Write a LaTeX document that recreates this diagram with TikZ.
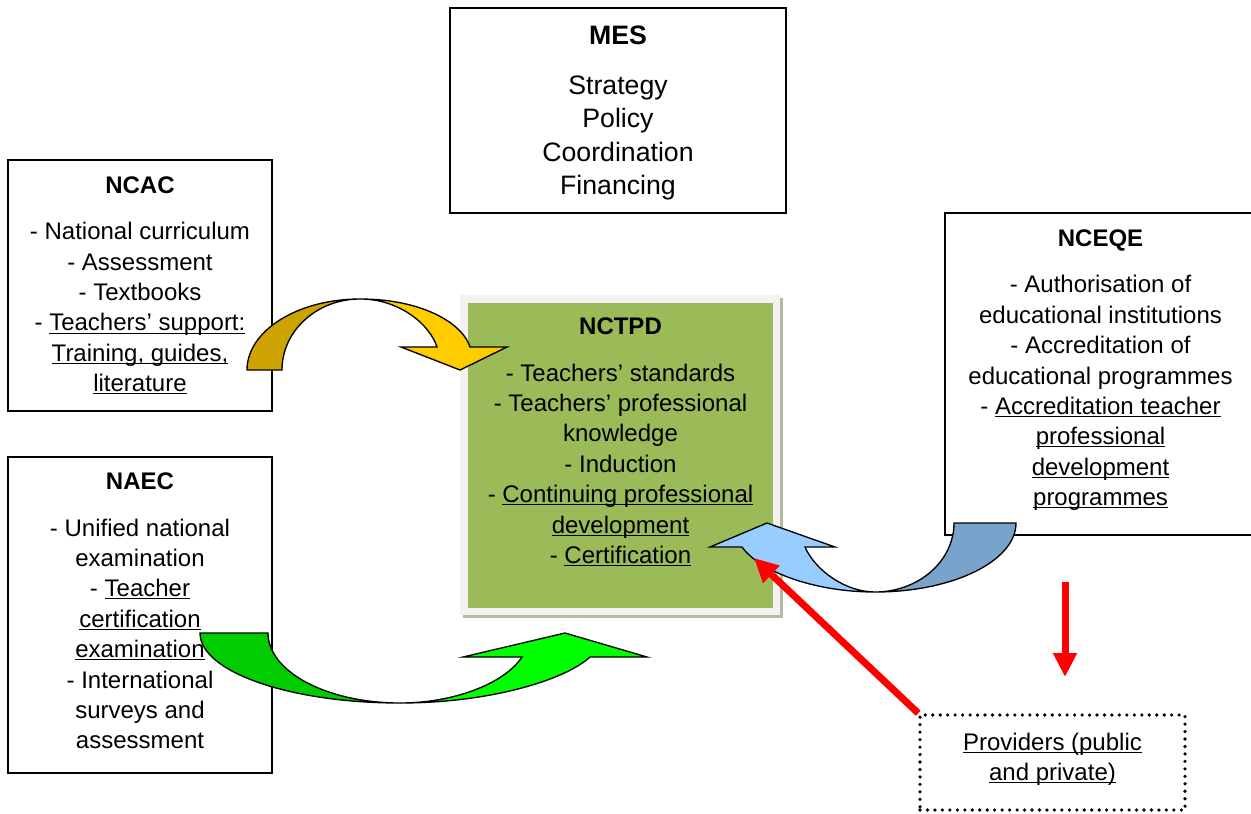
\documentclass[tikz,border=0pt]{standalone}
\usepackage{fontspec}
\setmainfont{Liberation Sans}
\usetikzlibrary{arrows.meta}

\definecolor{nctpdgreen}{RGB}{155,187,89}
\definecolor{framegray}{RGB}{242,242,242}
\definecolor{shadowgray}{RGB}{180,188,160}
\definecolor{golddark}{RGB}{204,163,0}
\definecolor{goldlight}{RGB}{255,204,0}
\definecolor{greendark}{RGB}{0,204,0}
\definecolor{greenlight}{RGB}{0,255,0}
\definecolor{bluedark}{RGB}{122,163,204}
\definecolor{bluelight}{RGB}{153,204,255}

\newcommand{\uln}[1]{\underline{\smash{#1}}}

\tikzset{every picture/.style={line width=0.75pt}}
\tikzset{
  infobox/.style={draw, line width=1pt, fill=white, inner sep=0pt, align=center,
    font=\fontsize{18}{22.8}\selectfont},
  bodytext/.style={inner sep=0pt, align=center, font=\fontsize{18}{22.8}\selectfont},
  bandarrow/.style={draw, line width=1pt, line join=miter},
  redarrow/.style={draw=red, line width=5.25pt, -{Triangle[width=17pt,length=18pt]}}
}

\begin{document}
\begin{tikzpicture}[x=0.75pt,y=0.75pt,yscale=-1,xscale=1]
\useasboundingbox (0,0) rectangle (1251,813);

%Shape: Rectangle [MES]
\node [infobox, minimum width=252pt, minimum height=153.75pt] (mes) at (618,110.5) {};
% Text Node
\node [bodytext, font=\fontsize{20}{25}\selectfont] (mestxt) at (618,113)
  {\textbf{MES}\\[12.5pt]Strategy\\Policy\\Coordination\\Financing};
% Text Node
\node [infobox, minimum width=198pt, minimum height=188.25pt] (ncac) at (140,285.5)
  {\textbf{NCAC}\\[12pt]- National curriculum\\- Assessment\\- Textbooks\\
   - \uln{Teachers’ support:}\\\uln{Training, guides,}\\\uln{literature}};
%Shape: Rectangle [NAEC]
\node [infobox, minimum width=198pt, minimum height=237pt] (naec) at (140,615) {};
% Text Node
\node [bodytext] (naectxt) at (140,611)
  {\textbf{NAEC}\\[12pt]- Unified national\\examination\\- \uln{Teacher}\\\uln{certification}\\
   \uln{examination}\\- International\\surveys and\\assessment};
%Shape: Rectangle [NCEQE]
\node [infobox, minimum width=233.25pt, minimum height=241.5pt] (nceqe) at (1100.5,374) {};
% Text Node
\node [bodytext] (nceqetxt) at (1100.5,369)
  {\textbf{NCEQE}\\[12pt]- Authorisation of\\educational institutions\\- Accreditation of\\
   educational programmes\\- \uln{Accreditation teacher}\\\uln{professional}\\\uln{development}\\
   \uln{programmes}};
%Shape: Rectangle [Providers, dotted]
\node [infobox, dash pattern=on 0pt off 5.6pt, line cap=round, line width=2.7pt, minimum width=198.75pt, minimum height=71.25pt] (prov) at (1052.5,762.5) {};
% Text Node
\node [bodytext] (provtxt) at (1052.5,767)
  {\uln{Providers (public}\\\uln{and private)}};

%Shape: Rectangle (shadow, frame and green box of NCTPD)
\node [fill=shadowgray, inner sep=0pt, minimum width=240pt, minimum height=240pt] (nctpdshadow) at (622.5,458) {};
\node [fill=framegray, inner sep=0pt, minimum width=240pt, minimum height=240pt] (nctpdframe) at (620,455) {};
\node [fill=nctpdgreen, inner sep=0pt, minimum width=228.75pt, minimum height=228.75pt] (nctpd) at (620.5,455.5) {};
% Text Node
\node [bodytext] (nctpdtxt) at (620.5,442)
  {\textbf{NCTPD}\\[12pt]- Teachers’ standards\\- Teachers’ professional\\knowledge\\- Induction\\
   - \uln{Continuing professional}\\\uln{development}\\- \uln{Certification}};

%Shape: Curved Down Arrow (NCAC to NCTPD)
\draw [bandarrow, fill=golddark] (247,370) .. controls (247,330.8) and (297.6,299) .. (360,299)
  .. controls (316.9,299) and (282,330.8) .. (282,370) -- cycle;
\draw [bandarrow, fill=goldlight] (360,299) .. controls (420,299) and (462,322) .. (470,347)
  -- (507,347) -- (460,370) -- (401,347) -- (437,347)
  .. controls (430,325) and (400,299) .. (360,299) -- cycle;

%Shape: Curved Up Arrow (NAEC to NCTPD)
\draw [bandarrow, fill=greendark] (200,633) .. controls (200,671.7) and (289.5,703) .. (400,703)
  .. controls (327,703) and (268,671.7) .. (268,633) -- cycle;
\draw [bandarrow, fill=greenlight] (400,703) .. controls (490,703) and (565,680) .. (590,657)
  -- (647,657) -- (565,633) -- (463,657) -- (522,657)
  .. controls (505,683) and (455,703) .. (400,703) -- cycle;

%Shape: Curved Up Arrow (NCEQE to NCTPD)
\draw [bandarrow, fill=bluedark] (1016,523) .. controls (1016,561) and (953,592) .. (875,592)
  .. controls (918.6,592) and (954,561) .. (954,523) -- cycle;
\draw [bandarrow, fill=bluelight] (875,592) .. controls (815,592) and (760,572) .. (742,547)
  -- (710,547) -- (767,523) -- (835,547) -- (805,547)
  .. controls (815,570) and (845,592) .. (875,592) -- cycle;

% red arrows
\coordinate (certtip) at (754,558);
\coordinate (downtop) at (1065,582);
\coordinate (downtip) at (1065,677);
\draw [redarrow] (prov.north west) -- (certtip);
\draw [redarrow] (downtop) -- (downtip);

\end{tikzpicture}
\end{document}
